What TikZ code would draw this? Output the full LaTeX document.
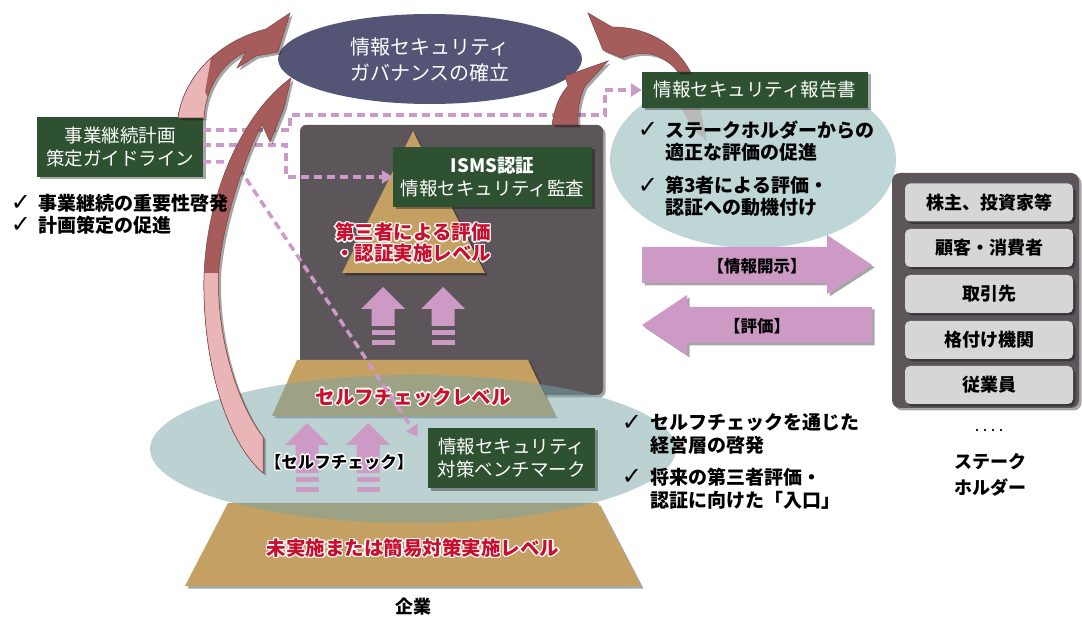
\documentclass[tikz,border=0pt]{standalone}
\usepackage{fontspec}
\setmainfont{Noto Sans CJK JP}
\newfontfamily\dv{DejaVu Sans}
\usetikzlibrary{shadows,calc,arrows.meta}
\definecolor{govblue}{HTML}{535476}
\definecolor{darkpanel}{HTML}{5C565B}
\definecolor{boxgreen}{HTML}{2E5131}
\definecolor{pyrtan}{HTML}{C4A063}
\definecolor{pinkarr}{HTML}{CC9AC4}
\definecolor{tealr}{HTML}{BFD6D6}
\definecolor{tealb}{HTML}{79A5A5}
\definecolor{arrred}{HTML}{A65C5A}
\definecolor{arrpink}{HTML}{E9B5B7}
\definecolor{arrline}{HTML}{7A4444}
\definecolor{redtext}{HTML}{C8102E}
\definecolor{sbox}{HTML}{D6D6D6}
\definecolor{dashpink}{HTML}{CC99C8}
\newcommand\halotext[4]{%
  \foreach \dx/\dy in {-1/-1,-1/1,1/-1,1/1,0/1.4,0/-1.4,1.4/0,-1.4/0}{%
    \node[#3, text=white, xshift=\dx pt, yshift=\dy pt] at (#2) {#4};}
  \node[#3] (#1) at (#2) {#4};}
\newcommand\pinkup[3]{%
  \fill[pinkarr] (#1,#2) -- ++(22,22) -- ++(-10.5,0) -- ++(0,#3) -- ++(-23,0) -- ++(0,-#3) -- ++(-10.5,0) -- cycle;
  \fill[pinkarr] (#1-11.5,#2+22+#3+4) rectangle ++(23,5);
  \fill[pinkarr] (#1-11.5,#2+22+#3+14) rectangle ++(23,5);}
\newcommand\Aone{(178,118) .. controls (183,80) and (215,42) .. (266,29) -- (290,13) -- (278,52) -- (256,56) -- (237,68) -- (246,52) .. controls (222,62) and (205,90) .. (204,118) -- cycle}
\newcommand\Atwo{(263,473) .. controls (225,440) and (203,360) .. (204,280) .. controls (205,200) and (240,115) .. (291,78) -- (284,108) -- (270,142) -- (262,124) .. controls (248,150) and (224,215) .. (219,268) .. controls (215,330) and (235,400) .. (263,437) -- cycle}
\newcommand\Athree{(552,125) .. controls (555,105) and (560,95) .. (568,86) -- (565,76) -- (608,61) -- (585,86) .. controls (580,97) and (577,110) .. (578,125) -- cycle}
\newcommand\Afour{(690,72) .. controls (675,42) and (645,27) .. (612,27) -- (588,13) -- (603,50) -- (622,58) .. controls (645,48) and (665,55) .. (678,72) -- cycle}
\begin{document}
\begin{tikzpicture}[x=1pt,y=-1pt,
  sh/.style={drop shadow={fill=black,opacity=0.35,shadow xshift=2.5pt,shadow yshift=-2.5pt}},
  gbox/.style={fill=boxgreen, inner sep=0pt, text=white, align=center,
    font=\fontsize{18.5}{23}\selectfont, sh},
  redlbl/.style={text=redtext, align=center, font=\bfseries\fontsize{19.5}{21}\selectfont},
  blklbl/.style={text=black, align=center, font=\bfseries\fontsize{16.5}{20}\selectfont},
  chktxt/.style={text=black, align=left, anchor=west, inner sep=0pt, font=\bfseries\fontsize{19}{22.5}\selectfont},
  chk/.style={text=black, inner sep=0pt, font=\dv\fontsize{24}{24}\selectfont},
  dashln/.style={draw=dashpink, line width=3.5pt, dash pattern=on 8pt off 5pt},
  dasharr/.style={dashln, -{Triangle[length=11pt,width=13pt]}},
  redarr/.style={fill=arrred, draw=arrline, line width=0.5pt},
  pinkrib/.style={fill=arrpink, draw=arrline, line width=0.5pt},
  stk/.style={fill=sbox, rounded corners=5pt, minimum width=168pt, minimum height=38pt, inner sep=0pt,
    font=\bfseries\fontsize{18}{20}\selectfont, sh}]
\useasboundingbox (0,0) rectangle (1082,617);
% large dark panel behind pyramid
\fill[darkpanel, rounded corners=6pt, sh] (300,125) rectangle (603,395);
% right teal ellipse
\fill[tealr] (753,160) ellipse [x radius=143pt, y radius=88pt];
\fill[gray!55] (681,108) -- (700,108) -- (707,141) -- (693,129) -- cycle;
% pyramid top
\fill[pyrtan, sh] (413,131) -- (485,273) -- (342,273) -- cycle;
\pinkup{383}{287}{17}
\pinkup{443}{287}{17}
% pyramid middle and bottom
\fill[pyrtan, sh] (297,360) -- (528,360) -- (555,416) -- (272,416) -- cycle;
\fill[pyrtan, sh] (228,503) -- (598,503) -- (641,586) -- (185,586) -- cycle;
% translucent lower ellipse
\fill[tealb, fill opacity=0.5] (413,449) ellipse [x radius=263pt, y radius=74pt];
% level labels
\halotext{lvl3}{413,243}{redlbl}{第三者による評価\\・認証実施レベル}
\halotext{lvl2}{413,397}{redlbl}{セルフチェックレベル}
\halotext{lvl1}{413,548}{redlbl}{未実施または簡易対策実施レベル}
% boxes
\node[gbox, minimum width=199pt, minimum height=60pt] (isms) at (492.5,177) {{\bfseries ISMS認証}\\情報セキュリティ監査};
\pinkup{307}{423}{28}
\pinkup{368}{423}{28}
\halotext{selfchk}{339,462}{blklbl}{【セルフチェック】}
\node[gbox, minimum width=167pt, minimum height=60pt] (bench) at (511.5,458) {情報セキュリティ\\対策ベンチマーク};
% governance ellipse
\fill[govblue] (430,59) ellipse [x radius=152pt, y radius=45pt];
\node[text=white, align=center, font=\fontsize{20}{26}\selectfont] (gov) at (430,60) {情報セキュリティ\\ガバナンスの確立};
\node[gbox, minimum width=226pt, minimum height=36pt] (rep) at (755,90) {情報セキュリティ報告書};
\node[gbox, minimum width=166pt, minimum height=60pt] (bcp) at (120,147) {事業継続計画\\策定ガイドライン};
% dashed connectors
\coordinate (l1a) at (290,130);
\coordinate (l1b) at (605,115);
\draw[dasharr] (bcp.east |- l1a) -- (l1a) -- (290,115) -- (l1b) -- (605,90) -- (rep.west);
\coordinate (l2a) at (286,145);
\draw[dasharr] (bcp.east |- l2a) -- (l2a) -- (286,177) -- (isms.west);
\coordinate (l3a) at (235,162);
\draw[dasharr] (bcp.east |- l3a) -- (l3a) -- ($(bench.north west)+(-10,9)$);
% curved arrows
\fill[redarr, sh] \Aone;
\begin{scope}
  \clip (160,125) -- (160,50) -- (212,52) -- (205,92) -- (222,125) -- cycle;
  \fill[pinkrib] \Aone;
\end{scope}
\fill[redarr, sh] \Atwo;
\begin{scope}
  \clip (150,274) rectangle (300,480);
  \fill[pinkrib] \Atwo;
\end{scope}
\fill[redarr, sh] \Athree;
\fill[redarr, sh] \Afour;
% left checklist
\node[chk] (c1) at (21,203) {✓};
\node[chktxt] (t1) at (38,203) {事業継続の重要性啓発};
\node[chk] (c2) at (21,225) {✓};
\node[chktxt] (t2) at (38,225) {計画策定の促進};
% right upper checklist
\node[chk] (c3) at (648,130) {✓};
\node[chktxt] (t3) at (665,141) {ステークホルダーからの\\適正な評価の促進};
\node[chk] (c4) at (648,186) {✓};
\node[chktxt] (t4) at (665,196.5) {第3者による評価・\\認証への動機付け};
% lower right checklist
\node[chk] (c5) at (632,423) {✓};
\node[chktxt] (t5) at (650,434) {セルフチェックを通じた\\経営層の啓発};
\node[chk] (c6) at (632,477) {✓};
\node[chktxt] (t6) at (650,488.5) {将来の第三者評価・\\認証に向けた「入口」};
% disclosure / evaluation arrows
\fill[pinkarr, sh] (642,247) -- (827,247) -- (827,235) -- (872,265) -- (827,294) -- (827,283) -- (642,283) -- cycle;
\node[blklbl] (disc) at (757,266) {【情報開示】};
\fill[pinkarr, sh] (642,325) -- (687,295) -- (687,307) -- (872,307) -- (872,343) -- (687,343) -- (687,355) -- cycle;
\node[blklbl] (eval) at (757,326) {【評価】};
% stakeholders
\fill[darkpanel, rounded corners=8pt, sh] (892,173) rectangle (1079,408);
\node[stk] (s1) at (989,202.5) {株主、投資家等};
\node[stk] (s2) at (989,248) {顧客・消費者};
\node[stk] (s3) at (989,294) {取引先};
\node[stk] (s4) at (989,340) {格付け機関};
\node[stk] (s5) at (989,385) {従業員};
\node[font=\bfseries\fontsize{8}{8}\selectfont] (dots) at (989,431) {・・・・};
\node[align=center, font=\bfseries\fontsize{18}{26}\selectfont] (stakeholder) at (990,475) {ステーク\\ホルダー};
\node[font=\bfseries\fontsize{18}{20}\selectfont] (corp) at (413,607) {企業};
\end{tikzpicture}
\end{document}
